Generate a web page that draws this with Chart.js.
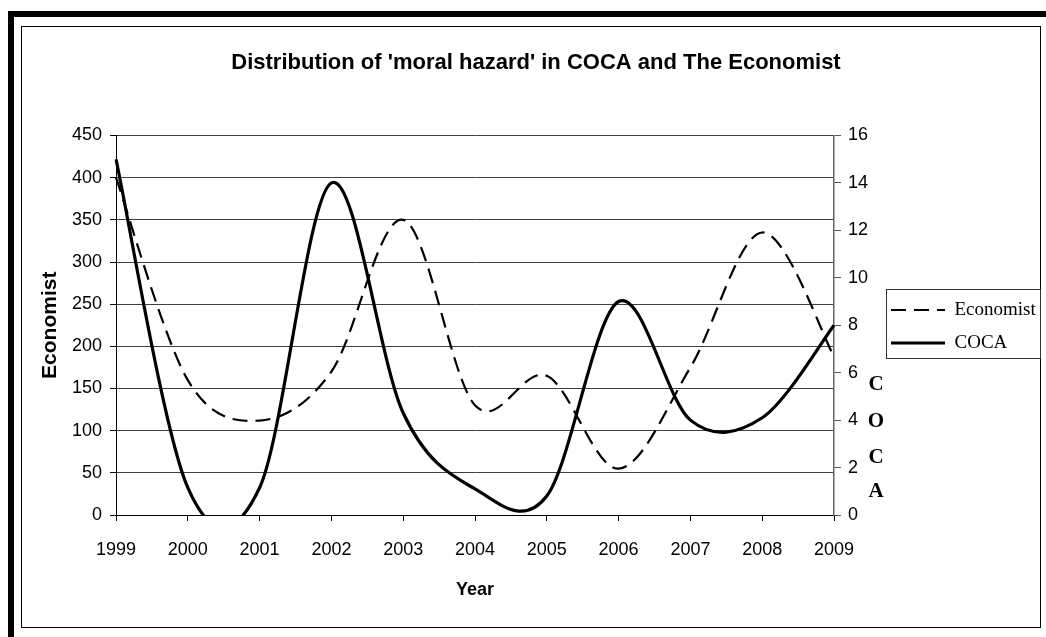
<!DOCTYPE html>
<html>
<head>
<meta charset="utf-8">
<script src="https://cdn.jsdelivr.net/npm/chart.js@4.4.1/dist/chart.umd.min.js"></script>
<style>
  html, body { margin: 0; padding: 0; background: #fff; }
  #wrap { position: relative; width: 1046px; height: 637px; overflow: hidden; background: #fff; }
  #outer { position: absolute; left: 8px; top: 11px; width: 1100px; height: 700px;
           border-left: 6px solid #000; border-top: 6px solid #000; }
  #inner { position: absolute; left: 21px; top: 26px; width: 1018px; height: 600px; border: 1px solid #000; }
  #c { position: absolute; left: 0; top: 0; }
</style>
</head>
<body>
<div id="wrap">
  <div id="outer"></div>
  <div id="inner"></div>
  <canvas id="c" width="1046" height="637"></canvas>
</div>
<script>
// ---- data ----
const years = ['1999', '2000', '2001', '2002', '2003', '2004', '2005', '2006', '2007', '2008', '2009'];
const economistValues = [400, 160, 112, 170, 350, 130, 165, 55, 175, 335, 188];
const cocaValues = [15, 1.15, 1.15, 14, 4.3, 1.1, 0.8, 9, 4, 4.1, 8];
const leftAxisRange = { min: 0, max: 450, step: 50 };
const rightAxisRange = { min: 0, max: 16, step: 2 };
const rightAxisTitleLetters = ['C', 'O', 'C', 'A'];

const SANS = '"Liberation Sans", Arial, Helvetica, sans-serif';
const SERIF = '"Liberation Serif", "Times New Roman", serif';

// Excel-style smoothing (uniform Catmull-Rom) applied to the points placed by Chart.js scales
const excelSmooth = {
  id: 'excelSmooth',
  beforeDatasetDraw(chart, args) {
    const meta = args.meta;
    const line = meta.dataset;
    const pts = meta.data;
    if (!line || !pts || pts.length < 2) return;
    const n = pts.length;
    for (let i = 0; i < n; i++) {
      const p = pts[i];
      const prev = pts[Math.max(0, i - 1)];
      const next = pts[Math.min(n - 1, i + 1)];
      const dx = (next.x - prev.x) / 6;
      const dy = (next.y - prev.y) / 6;
      p.cp1x = p.x - dx; p.cp1y = p.y - dy;
      p.cp2x = p.x + dx; p.cp2y = p.y + dy;
    }
    line._pointsUpdated = true;
    line._path = undefined;
  }
};

// Legend frame and stacked right-axis title
const decorations = {
  id: 'decorations',
  afterDraw(chart) {
    const ctx = chart.ctx;
    const lg = chart.legend;
    if (lg && lg.legendHitBoxes && lg.legendHitBoxes.length) {
      const hb = lg.legendHitBoxes;
      const first = hb[0], last = hb[hb.length - 1];
      const x0 = Math.round(first.left - 5) + 0.5;
      const y0 = Math.round(first.top - 12) + 0.5;
      const x1 = 1040.5;
      const y1 = Math.round(last.top + last.height + 5) + 0.5;
      ctx.save();
      ctx.strokeStyle = '#333';
      ctx.lineWidth = 1;
      ctx.strokeRect(x0, y0, x1 - x0, y1 - y0);
      ctx.restore();
    }
    const ys = chart.scales.y1;
    const area = chart.chartArea;
    ctx.save();
    ctx.fillStyle = '#000';
    ctx.font = 'bold 21px ' + SERIF;
    ctx.textAlign = 'center';
    ctx.textBaseline = 'middle';
    const offsets = [130, 93, 57, 23];
    rightAxisTitleLetters.forEach((ch, i) => {
      ctx.fillText(ch, ys.left + 42, area.bottom - offsets[i]);
    });
    ctx.restore();
  }
};

new Chart(document.getElementById('c'), {
  type: 'line',
  data: {
    labels: years,
    datasets: [
      {
        label: 'Economist',
        data: economistValues,
        yAxisID: 'y',
        borderColor: '#000',
        backgroundColor: '#000',
        borderWidth: 2.2,
        borderDash: [15, 8],
        borderCapStyle: 'butt',
        pointRadius: 0,
        tension: 0.4,
        fill: false
      },
      {
        label: 'COCA',
        data: cocaValues,
        yAxisID: 'y1',
        borderColor: '#000',
        backgroundColor: '#000',
        borderWidth: 3.2,
        pointRadius: 0,
        tension: 0.4,
        fill: false
      }
    ]
  },
  options: {
    responsive: false,
    animation: false,
    events: [],
    elements: { line: { capBezierPoints: false } },
    layout: { padding: { left: 30, right: 4, top: 30, bottom: 20 } },
    plugins: {
      title: {
        display: true,
        text: "Distribution of 'moral hazard' in COCA and The Economist",
        color: '#000',
        font: { family: SANS, size: 22, weight: 'bold', lineHeight: 1.2 },
        padding: { top: 19.3, bottom: 59.8 }
      },
      legend: {
        position: 'right',
        maxWidth: 165,
        title: { display: true, text: '', font: { size: 5, lineHeight: 1.2 }, padding: 0 },
        labels: {
          usePointStyle: true,
          pointStyle: 'line',
          pointStyleWidth: 54,
          boxWidth: 54,
          padding: 14,
          color: '#000',
          font: { family: SERIF, size: 19 },
          generateLabels(chart) {
            return chart.data.datasets.map((ds, i) => ({
              text: ds.label,
              fillStyle: ds.borderColor,
              strokeStyle: ds.borderColor,
              lineWidth: ds.borderWidth,
              lineDash: ds.borderDash || [],
              lineCap: 'butt',
              pointStyle: 'line',
              hidden: false,
              datasetIndex: i,
              fontColor: '#000'
            }));
          }
        }
      },
      tooltip: { enabled: false }
    },
    scales: {
      x: {
        type: 'category',
        offset: false,
        grid: { display: true, drawOnChartArea: false, drawTicks: true, tickLength: 6, color: '#000' },
        border: { display: true, color: '#000', width: 1 },
        ticks: { color: '#000', font: { family: SANS, size: 18 }, padding: 18, maxRotation: 0, autoSkip: false },
        title: { display: true, text: 'Year', color: '#000', font: { family: SANS, size: 18, weight: 'bold', lineHeight: 1.2 }, padding: { top: 0, bottom: 16 } },
        afterFit(scale) { scale.height = 102; }
      },
      y: {
        position: 'left',
        min: leftAxisRange.min,
        max: leftAxisRange.max,
        grid: { color: '#404040', lineWidth: 1, drawTicks: true, tickLength: 6, tickColor: '#000' },
        border: { display: true, color: '#000', width: 1 },
        ticks: { stepSize: leftAxisRange.step, color: '#000', font: { family: SANS, size: 18 }, padding: 8 },
        title: { display: true, text: 'Economist', color: '#000', font: { family: SANS, size: 21, weight: 'bold', lineHeight: 1.2 }, padding: { top: 8, bottom: 0 } },
        afterFit(scale) { scale.width = 86; }
      },
      y1: {
        position: 'right',
        min: rightAxisRange.min,
        max: rightAxisRange.max,
        grid: { drawOnChartArea: false, drawTicks: true, tickLength: 7, color: '#555' },
        border: { display: true, color: '#666', width: 1.5 },
        ticks: { stepSize: rightAxisRange.step, color: '#000', font: { family: SANS, size: 18 }, padding: 7 },
        afterFit(scale) { scale.width = 43; }
      }
    }
  },
  plugins: [excelSmooth, decorations]
});
</script>
</body>
</html>
